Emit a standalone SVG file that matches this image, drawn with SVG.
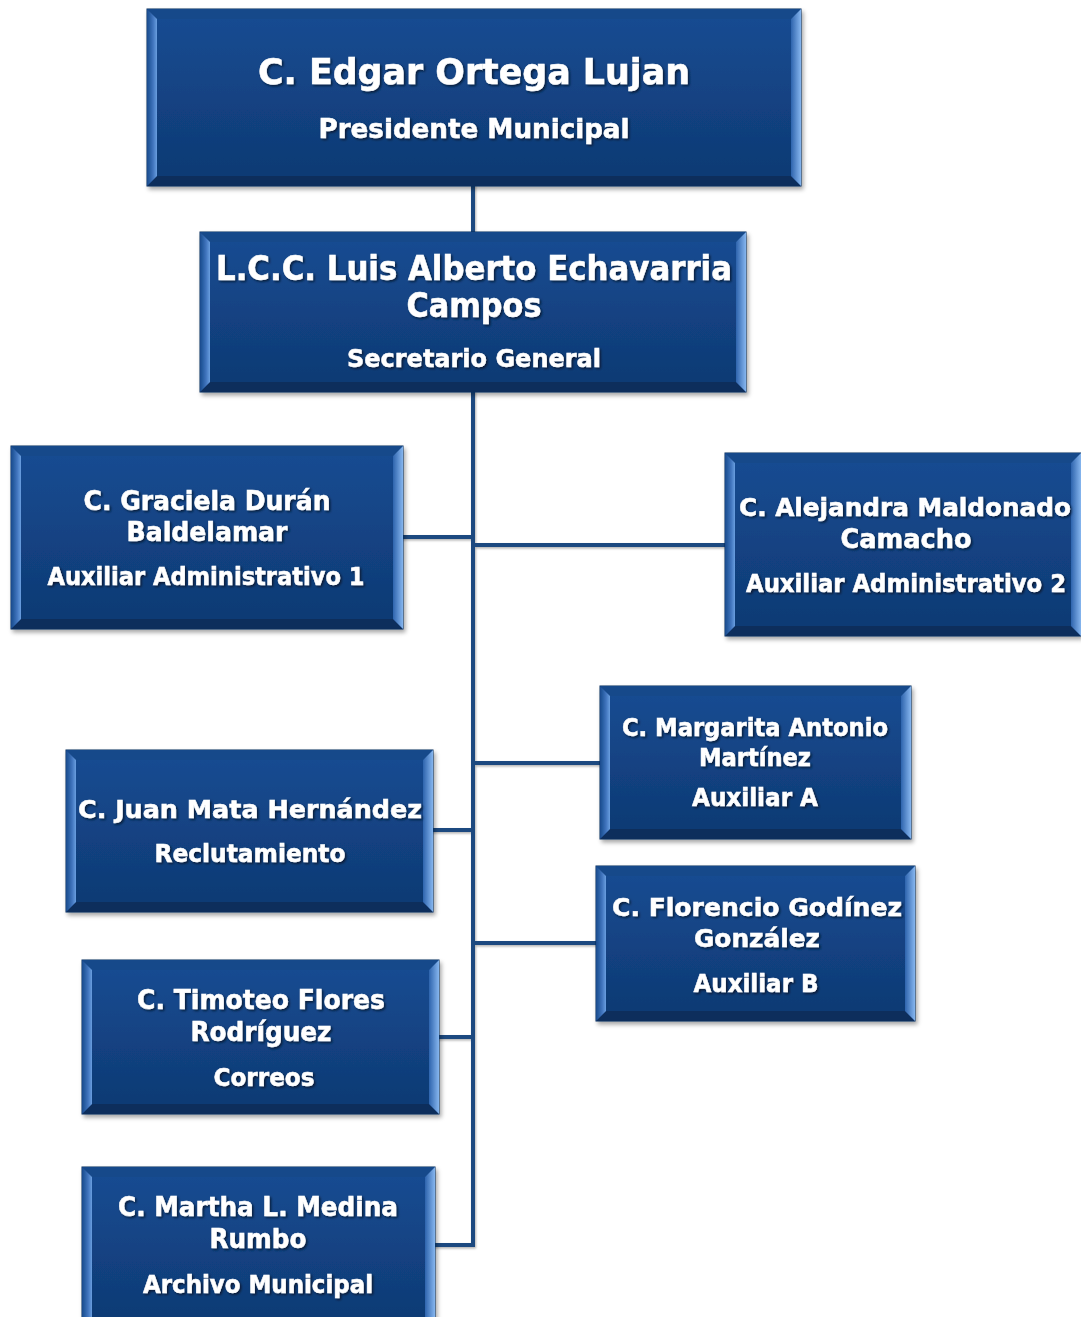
<svg xmlns="http://www.w3.org/2000/svg" width="1081" height="1317" viewBox="0 0 1081 1317">
<defs>
<linearGradient id="face" x1="0" y1="0" x2="0" y2="1"><stop offset="0" stop-color="#164b91"/><stop offset="1" stop-color="#0f3a74"/></linearGradient>
<linearGradient id="gl" x1="0" y1="0" x2="1" y2="0"><stop offset="0" stop-color="#174a8c"/><stop offset="0.6" stop-color="#3f74bd"/><stop offset="1" stop-color="#6a9edf"/></linearGradient>
<linearGradient id="gr" x1="0" y1="0" x2="1" y2="0"><stop offset="0" stop-color="#2e64ad"/><stop offset="1" stop-color="#86b6ef"/></linearGradient>
<filter id="sh" x="-5%" y="-5%" width="112%" height="115%"><feDropShadow dx="2" dy="3" stdDeviation="2" flood-color="#000" flood-opacity="0.35"/></filter>
<filter id="ts" x="-5%" y="-20%" width="110%" height="140%"><feDropShadow dx="1.5" dy="1.5" stdDeviation="1" flood-color="#000" flood-opacity="0.6"/></filter>
<filter id="ls"><feDropShadow dx="1" dy="1.5" stdDeviation="1" flood-color="#000" flood-opacity="0.3"/></filter>
</defs>
<style>
.o{fill:#123f7c;stroke:#0a2b5a;stroke-width:1}
.bt{fill:#174a8a}
.bb{fill:#0c2d5c}
.bl{fill:url(#gl)}
.br{fill:url(#gr)}
.f{fill:url(#face)}
.t{fill:#fff;stroke:#fff;stroke-width:0.5;font-family:"DejaVu Sans",Verdana,sans-serif;font-weight:bold;text-anchor:middle;filter:url(#ts)}
.c{stroke:#1f4a80;stroke-width:4;fill:none}
</style>
<rect width="1081" height="1317" fill="#fff"/>
<g id="connectors" filter="url(#ls)">
<line class="c" x1="473" y1="184" x2="473" y2="234"/>
<line class="c" x1="473" y1="390" x2="473" y2="1247"/>
<line class="c" x1="401" y1="537" x2="473" y2="537"/>
<line class="c" x1="473" y1="545" x2="727" y2="545"/>
<line class="c" x1="473" y1="763" x2="602" y2="763"/>
<line class="c" x1="431" y1="830" x2="473" y2="830"/>
<line class="c" x1="473" y1="943" x2="598" y2="943"/>
<line class="c" x1="437" y1="1037" x2="473" y2="1037"/>
<line class="c" x1="433" y1="1245" x2="475" y2="1245"/>
</g>
<g id="n1" filter="url(#sh)">
<rect class="o" x="147" y="9" width="654" height="177"/>
<polygon class="bt" points="147,9 801,9 791,19 157,19"/>
<polygon class="bb" points="147,186 801,186 791,176 157,176"/>
<polygon class="bl" points="147,9 157,19 157,176 147,186"/>
<polygon class="br" points="801,9 791,19 791,176 801,186"/>
<rect class="f" x="157" y="19" width="634" height="157"/>
<text class="t" x="474" y="84" font-size="36" textLength="432" lengthAdjust="spacingAndGlyphs">C. Edgar Ortega Lujan</text>
<text class="t" x="474" y="138" font-size="27" textLength="311" lengthAdjust="spacingAndGlyphs">Presidente Municipal</text>
</g>
<g id="n2" filter="url(#sh)">
<rect class="o" x="200" y="232" width="546" height="160"/>
<polygon class="bt" points="200,232 746,232 736,242 210,242"/>
<polygon class="bb" points="200,392 746,392 736,382 210,382"/>
<polygon class="bl" points="200,232 210,242 210,382 200,392"/>
<polygon class="br" points="746,232 736,242 736,382 746,392"/>
<rect class="f" x="210" y="242" width="526" height="140"/>
<text class="t" x="474" y="280" font-size="33" textLength="516" lengthAdjust="spacingAndGlyphs">L.C.C. Luis Alberto Echavarria</text>
<text class="t" x="474" y="317" font-size="33" textLength="135" lengthAdjust="spacingAndGlyphs">Campos</text>
<text class="t" x="474" y="367" font-size="25" textLength="254" lengthAdjust="spacingAndGlyphs">Secretario General</text>
</g>
<g id="n3" filter="url(#sh)">
<rect class="o" x="11" y="446" width="392" height="183"/>
<polygon class="bt" points="11,446 403,446 393,456 21,456"/>
<polygon class="bb" points="11,629 403,629 393,619 21,619"/>
<polygon class="bl" points="11,446 21,456 21,619 11,629"/>
<polygon class="br" points="403,446 393,456 393,619 403,629"/>
<rect class="f" x="21" y="456" width="372" height="163"/>
<text class="t" x="207" y="510" font-size="26" textLength="247" lengthAdjust="spacingAndGlyphs">C. Graciela Durán</text>
<text class="t" x="207" y="541" font-size="26" textLength="161" lengthAdjust="spacingAndGlyphs">Baldelamar</text>
<text class="t" x="206" y="585" font-size="24" textLength="317" lengthAdjust="spacingAndGlyphs">Auxiliar Administrativo 1</text>
</g>
<g id="n4" filter="url(#sh)">
<rect class="o" x="725" y="453" width="356" height="183"/>
<polygon class="bt" points="725,453 1081,453 1071,463 735,463"/>
<polygon class="bb" points="725,636 1081,636 1071,626 735,626"/>
<polygon class="bl" points="725,453 735,463 735,626 725,636"/>
<polygon class="br" points="1081,453 1071,463 1071,626 1081,636"/>
<rect class="f" x="735" y="463" width="336" height="163"/>
<text class="t" x="905" y="516" font-size="24" textLength="332" lengthAdjust="spacingAndGlyphs">C. Alejandra Maldonado</text>
<text class="t" x="906" y="548" font-size="26" textLength="131" lengthAdjust="spacingAndGlyphs">Camacho</text>
<text class="t" x="906" y="592" font-size="24" textLength="320" lengthAdjust="spacingAndGlyphs">Auxiliar Administrativo 2</text>
</g>
<g id="n5" filter="url(#sh)">
<rect class="o" x="600" y="686" width="311" height="153"/>
<polygon class="bt" points="600,686 911,686 901,696 610,696"/>
<polygon class="bb" points="600,839 911,839 901,829 610,829"/>
<polygon class="bl" points="600,686 610,696 610,829 600,839"/>
<polygon class="br" points="911,686 901,696 901,829 911,839"/>
<rect class="f" x="610" y="696" width="291" height="133"/>
<text class="t" x="755" y="736" font-size="24" textLength="266" lengthAdjust="spacingAndGlyphs">C. Margarita Antonio</text>
<text class="t" x="755" y="766" font-size="24" textLength="112" lengthAdjust="spacingAndGlyphs">Martínez</text>
<text class="t" x="755" y="806" font-size="24" textLength="126" lengthAdjust="spacingAndGlyphs">Auxiliar A</text>
</g>
<g id="n6" filter="url(#sh)">
<rect class="o" x="66" y="750" width="367" height="162"/>
<polygon class="bt" points="66,750 433,750 423,760 76,760"/>
<polygon class="bb" points="66,912 433,912 423,902 76,902"/>
<polygon class="bl" points="66,750 76,760 76,902 66,912"/>
<polygon class="br" points="433,750 423,760 423,902 433,912"/>
<rect class="f" x="76" y="760" width="347" height="142"/>
<text class="t" x="250" y="818" font-size="25" textLength="344" lengthAdjust="spacingAndGlyphs">C. Juan Mata Hernández</text>
<text class="t" x="250" y="862" font-size="24" textLength="191" lengthAdjust="spacingAndGlyphs">Reclutamiento</text>
</g>
<g id="n7" filter="url(#sh)">
<rect class="o" x="596" y="866" width="319" height="155"/>
<polygon class="bt" points="596,866 915,866 905,876 606,876"/>
<polygon class="bb" points="596,1021 915,1021 905,1011 606,1011"/>
<polygon class="bl" points="596,866 606,876 606,1011 596,1021"/>
<polygon class="br" points="915,866 905,876 905,1011 915,1021"/>
<rect class="f" x="606" y="876" width="299" height="135"/>
<text class="t" x="757" y="916" font-size="25" textLength="290" lengthAdjust="spacingAndGlyphs">C. Florencio Godínez</text>
<text class="t" x="757" y="947" font-size="25" textLength="126" lengthAdjust="spacingAndGlyphs">González</text>
<text class="t" x="756" y="992" font-size="24" textLength="125" lengthAdjust="spacingAndGlyphs">Auxiliar B</text>
</g>
<g id="n8" filter="url(#sh)">
<rect class="o" x="82" y="960" width="357" height="154"/>
<polygon class="bt" points="82,960 439,960 429,970 92,970"/>
<polygon class="bb" points="82,1114 439,1114 429,1104 92,1104"/>
<polygon class="bl" points="82,960 92,970 92,1104 82,1114"/>
<polygon class="br" points="439,960 429,970 429,1104 439,1114"/>
<rect class="f" x="92" y="970" width="337" height="134"/>
<text class="t" x="261" y="1009" font-size="26" textLength="248" lengthAdjust="spacingAndGlyphs">C. Timoteo Flores</text>
<text class="t" x="261" y="1041" font-size="26" textLength="141" lengthAdjust="spacingAndGlyphs">Rodríguez</text>
<text class="t" x="264" y="1086" font-size="24" textLength="101" lengthAdjust="spacingAndGlyphs">Correos</text>
</g>
<g id="n9" filter="url(#sh)">
<rect class="o" x="82" y="1167" width="353" height="165"/>
<polygon class="bt" points="82,1167 435,1167 425,1177 92,1177"/>
<polygon class="bb" points="82,1332 435,1332 425,1322 92,1322"/>
<polygon class="bl" points="82,1167 92,1177 92,1322 82,1332"/>
<polygon class="br" points="435,1167 425,1177 425,1322 435,1332"/>
<rect class="f" x="92" y="1177" width="333" height="145"/>
<text class="t" x="258" y="1216" font-size="26" textLength="280" lengthAdjust="spacingAndGlyphs">C. Martha L. Medina</text>
<text class="t" x="258" y="1248" font-size="26" textLength="97" lengthAdjust="spacingAndGlyphs">Rumbo</text>
<text class="t" x="258" y="1293" font-size="24" textLength="230" lengthAdjust="spacingAndGlyphs">Archivo Municipal</text>
</g>
</svg>
